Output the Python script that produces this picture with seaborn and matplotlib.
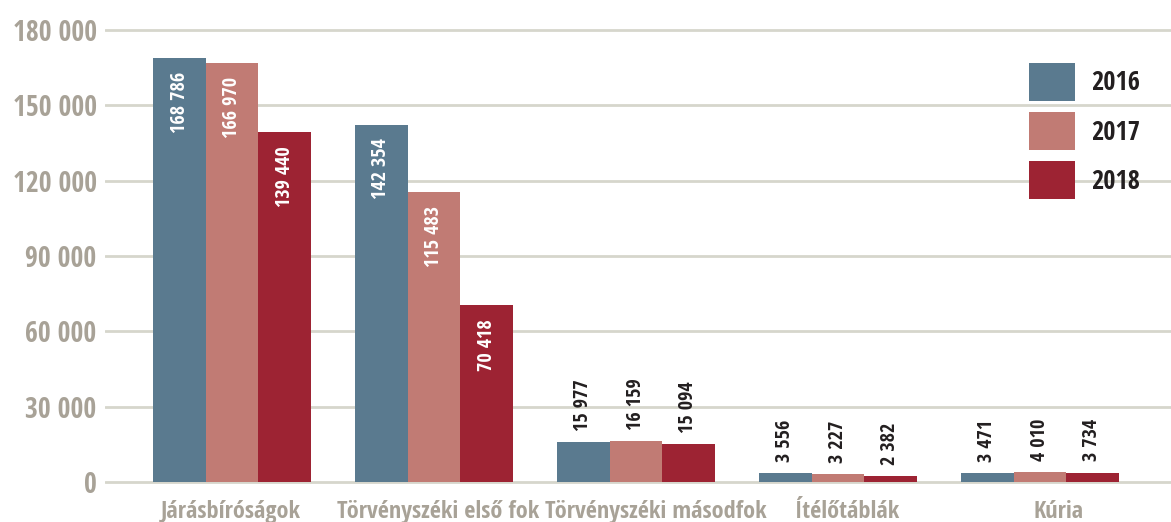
import matplotlib
matplotlib.use('Agg')
import matplotlib.pyplot as plt
import matplotlib.transforms as mtransforms
import seaborn as sns
import pandas as pd

categories = ['Járásbíróságok', 'Törvényszéki első fok', 'Törvényszéki másodfok',
              'Ítélőtáblák', 'Kúria']
years = ['2016', '2017', '2018']
values_2016 = [168786, 142354, 15977, 3556, 3471]
values_2017 = [166970, 115483, 16159, 3227, 4010]
values_2018 = [139440, 70418, 15094, 2382, 3734]
y_ticks = [0, 30000, 60000, 90000, 120000, 150000, 180000]

colors = ['#5a7a8f', '#c17b74', '#9d2333']
grey = '#a8a297'
dark = '#231f20'

df = pd.DataFrame({
    'cat': categories * 3,
    'year': [years[0]] * 5 + [years[1]] * 5 + [years[2]] * 5,
    'value': values_2016 + values_2017 + values_2018,
})

sns.set_style('white')
plt.rcParams['font.family'] = ['Open Sans Condensed', 'DejaVu Sans']
plt.rcParams['font.weight'] = 'bold'

fig = plt.figure(figsize=(11.71, 5.22), dpi=100)
ax = fig.add_axes([105 / 1171, 35 / 522, 1 - 105 / 1171, 462 / 522])

sns.barplot(data=df, x='cat', y='value', hue='year', palette=colors,
            width=0.78, saturation=1, ax=ax, zorder=3, linewidth=0)

ax.set_ylim(-2000, 182000)
ax.set_xlim(-0.629, 4.649)
ax.set_yticks(y_ticks)
ax.set_yticklabels([f'{t:,}'.replace(',', ' ') for t in y_ticks])
ax.yaxis.grid(True, color='#d6d6cc', linewidth=2, zorder=0)
ax.xaxis.grid(False)
for s in ax.spines.values():
    s.set_visible(False)
ax.tick_params(axis='y', length=0, pad=6, labelsize=20, labelcolor=grey)
ax.tick_params(axis='x', length=0, pad=9, labelsize=17.5, labelcolor=grey)
ax.set_xlabel('')
ax.set_ylabel('')

# the category labels in the original are not exactly centred under the groups
label_shift = [-1, 4, 20, 9, 19]
for lab, dx in zip(ax.get_xticklabels(), label_shift):
    lab.set_transform(lab.get_transform() +
                      mtransforms.ScaledTranslation(dx / 100, 0, fig.dpi_scale_trans))

for cont in ax.containers:
    for bar in cont:
        h = bar.get_height()
        xc = bar.get_x() + bar.get_width() / 2
        txt = f'{int(h):,}'.replace(',', ' ')
        if h > 50000:
            ax.annotate(txt, (xc, h), xytext=(0, -10), textcoords='offset points',
                        rotation=90, ha='center', va='top', color='white',
                        fontsize=14.5, fontweight='bold', zorder=5)
        else:
            ax.annotate(txt, (xc, h), xytext=(0, 8), textcoords='offset points',
                        rotation=90, ha='center', va='bottom', color=dark,
                        fontsize=14.5, fontweight='bold', zorder=5)

leg = ax.legend(loc='upper left', bbox_to_anchor=(1029 / 1171, 459 / 522),
                bbox_transform=fig.transFigure, frameon=False,
                fontsize=19, handlelength=1.74, handleheight=1.84,
                labelspacing=0.42, handletextpad=0.6, borderaxespad=0, borderpad=0)
for t in leg.get_texts():
    t.set_color(dark)

fig.savefig('out.png', dpi=100)
